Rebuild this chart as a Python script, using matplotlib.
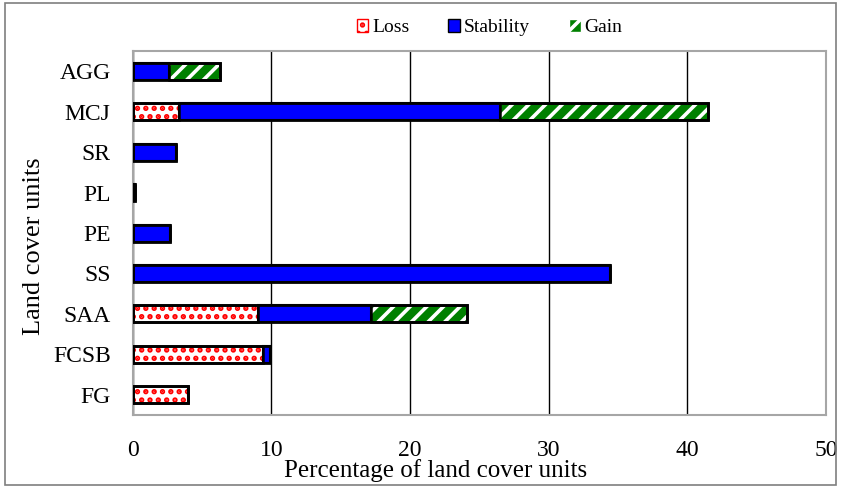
import matplotlib.pyplot as plt
from matplotlib.patches import Patch, Rectangle

units = ["AGG", "MCJ", "SR", "PL", "PE", "SS", "SAA", "FCSB", "FG"]
loss = [0.0, 3.3, 0.0, 0.0, 0.0, 0.0, 9.0, 9.4, 4.0]
stability = [2.6, 23.2, 3.1, 0.15, 2.7, 34.4, 8.2, 0.5, 0.0]
gain = [3.7, 15.0, 0.0, 0.0, 0.0, 0.0, 6.9, 0.0, 0.0]

plt.rcParams["font.family"] = ["Liberation Serif", "DejaVu Serif"]
plt.rcParams["hatch.linewidth"] = 2.6

fig = plt.figure(figsize=(8.41, 4.88), dpi=100)
ax = fig.add_axes([0.158, 0.150, 0.824, 0.745])

y = list(range(len(units)))
h = 0.42
stab_left = loss
gain_left = [a + b for a, b in zip(loss, stability)]
total = [a + b + c for a, b, c in zip(loss, stability, gain)]

# loss: red dots on white
ax.barh(y, loss, height=h, color="white", edgecolor="red", hatch="..", linewidth=0, zorder=3)
# stability: plain blue
ax.barh(y, stability, left=stab_left, height=h, color="#0000ff", edgecolor="black", linewidth=1.5, zorder=3)
# gain: green with white stripes
ax.barh(y, gain, left=gain_left, height=h, color="#008000", edgecolor="white", hatch="//", linewidth=0, zorder=3)
# black outlines around each segment
for vals, lefts in [(loss, [0] * len(loss)), (gain, gain_left)]:
    ax.barh(y, vals, left=lefts, height=h, color="none", edgecolor="black", linewidth=1.8, zorder=4)
ax.barh(y, total, height=h, color="none", edgecolor="black", linewidth=2.0, zorder=5)

ax.set_xlim(0, 50)
ax.set_ylim(len(units) - 0.5, -0.5)
ax.set_xticks([0, 10, 20, 30, 40, 50])
ax.set_yticks(y)
ax.set_yticklabels(units)
ax.tick_params(axis="both", length=0, labelsize=17)
ax.tick_params(axis="x", pad=18)
ax.tick_params(axis="y", pad=16)
ax.grid(axis="x", color="black", linewidth=1.0, zorder=0)
ax.set_axisbelow(True)
for s in ax.spines.values():
    s.set_color("#a6a6a6")
    s.set_linewidth(1.5)

ax.set_xlabel("Percentage of land cover units", fontsize=18)
ax.xaxis.set_label_coords(0.437, -0.122)
ax.set_ylabel("Land cover units", fontsize=19)
ax.yaxis.set_label_coords(-0.127, 0.464)

handles = [
    Patch(facecolor="white", edgecolor="red", hatch="..", label="Loss"),
    Patch(facecolor="#0000ff", edgecolor="black", label="Stability"),
    Patch(facecolor="#008000", edgecolor="white", hatch="//", label="Gain"),
]
fig.legend(handles=handles, loc="center", bbox_to_anchor=(0.582, 0.943), ncol=3,
           frameon=False, fontsize=14, handlelength=0.6, handleheight=0.6,
           handletextpad=0.2, columnspacing=2.0)

fig.add_artist(Rectangle((0.006, 0.006), 0.988, 0.988, transform=fig.transFigure,
                         fill=False, edgecolor="#7f7f7f", linewidth=1.2))

fig.savefig("out.png", dpi=100)
